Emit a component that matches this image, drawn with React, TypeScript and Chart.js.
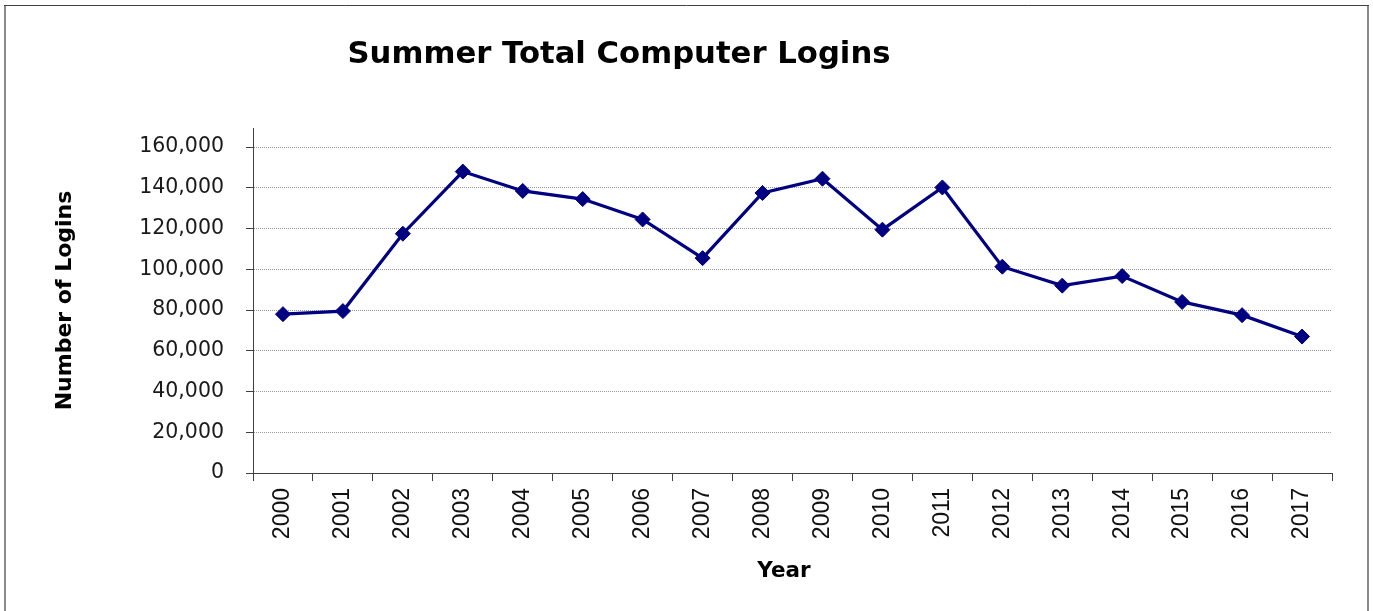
import React, { useEffect, useRef } from "react";
import { Chart, registerables } from "chart.js";

Chart.register(...registerables);

const years: string[] = [
  "2000", "2001", "2002", "2003", "2004", "2005", "2006", "2007", "2008",
  "2009", "2010", "2011", "2012", "2013", "2014", "2015", "2016", "2017",
];

const logins: number[] = [
  78000, 79500, 117500, 148000, 138500, 134500, 124500, 105500, 137500,
  144500, 119500, 140200, 101300, 92000, 96700, 84000, 77500, 67000,
];

const yTickValues: number[] = [0, 20000, 40000, 60000, 80000, 100000, 120000, 140000, 160000];

const chartTitle = "Summer Total Computer Logins";
const xTitle = "Year";
const yTitle = "Number of Logins";

const W = 1373;
const H = 611;

const decorPlugin = {
  id: "decor",
  beforeDraw(chart: any) {
    const ctx = chart.ctx;
    ctx.save();
    ctx.fillStyle = "#ffffff";
    ctx.fillRect(0, 0, W, H);
    ctx.restore();
  },
  afterDraw(chart: any) {
    const ctx = chart.ctx;
    ctx.save();
    ctx.strokeStyle = "#8a8a8a";
    ctx.lineWidth = 2;
    ctx.beginPath();
    ctx.moveTo(5, 620);
    ctx.lineTo(5, 5);
    ctx.moveTo(1368, 5);
    ctx.lineTo(1368, 620);
    ctx.stroke();
    ctx.strokeStyle = "#404040";
    ctx.lineWidth = 1;
    ctx.beginPath();
    ctx.moveTo(4, 5.5);
    ctx.lineTo(1369, 5.5);
    ctx.stroke();
    ctx.fillStyle = "#000000";
    ctx.font = 'bold 30.7px "DejaVu Sans"';
    ctx.textAlign = "center";
    ctx.textBaseline = "alphabetic";
    ctx.fillText(chartTitle, 619, 62.5);
    ctx.font = 'bold 21.5px "DejaVu Sans"';
    ctx.fillText(xTitle, 784, 576.5);
    ctx.restore();
  },
};

export default function App() {
  const ref = useRef<HTMLCanvasElement | null>(null);

  useEffect(() => {
    if (!ref.current) return;
    const chart = new Chart(ref.current, {
      type: "line",
      data: {
        labels: years,
        datasets: [
          {
            data: logins,
            borderColor: "#000080",
            backgroundColor: "#000080",
            borderWidth: 3.2,
            pointStyle: "rectRot",
            pointRadius: 7.5,
            pointBorderWidth: 1,
            pointBackgroundColor: "#000080",
            pointBorderColor: "#000080",
            tension: 0,
            clip: false as any,
          },
        ],
      },
      options: {
        animation: false,
        responsive: false,
        devicePixelRatio: 1,
        layout: { padding: { left: 20, right: 41, top: 128, bottom: 0 } },
        plugins: {
          legend: { display: false },
          tooltip: { enabled: false },
          title: { display: false },
        },
        scales: {
          x: {
            type: "category",
            offset: true,
            grid: {
              offset: true,
              drawOnChartArea: false,
              drawTicks: true,
              tickLength: 8,
              color: "#404040",
              tickColor: "#404040",
              lineWidth: 1,
            },
            border: { display: true, color: "#404040", width: 1 },
            ticks: {
              autoSkip: false,
              minRotation: 90,
              maxRotation: 90,
              padding: 7,
              color: "#111111",
              font: { family: '"Liberation Sans", Arial', size: 23 },
            },
            afterFit: (scale: any) => {
              scale.height = 138;
            },
          },
          y: {
            type: "linear",
            min: 0,
            max: 169400,
            ticks: {
              padding: 22,
              color: "#1a1a1a",
              font: { family: '"DejaVu Sans"', size: 20.5 },
              callback: (v: any) => Number(v).toLocaleString("en-US"),
            },
            afterBuildTicks: (scale: any) => {
              scale.ticks = yTickValues.map((v) => ({ value: v }));
            },
            grid: {
              drawOnChartArea: true,
              drawTicks: true,
              tickLength: 7,
              color: "#999999",
              tickColor: "#404040",
              lineWidth: 1,
            },
            border: { display: true, color: "#404040", width: 1, dash: [1, 1] },
            title: {
              display: true,
              text: yTitle,
              color: "#000000",
              font: { family: '"DejaVu Sans"', size: 22, weight: "bold" },
              padding: { top: 32, bottom: 0 },
            },
            afterFit: (scale: any) => {
              scale.width = 233;
            },
          },
        },
      },
      plugins: [decorPlugin],
    });
    return () => chart.destroy();
  }, []);

  return (
    <div style={{ position: "absolute", left: 0, top: 0, width: W, height: H, background: "#fff" }}>
      <canvas ref={ref} width={W} height={H} style={{ display: "block", width: W, height: H }} />
    </div>
  );
}
